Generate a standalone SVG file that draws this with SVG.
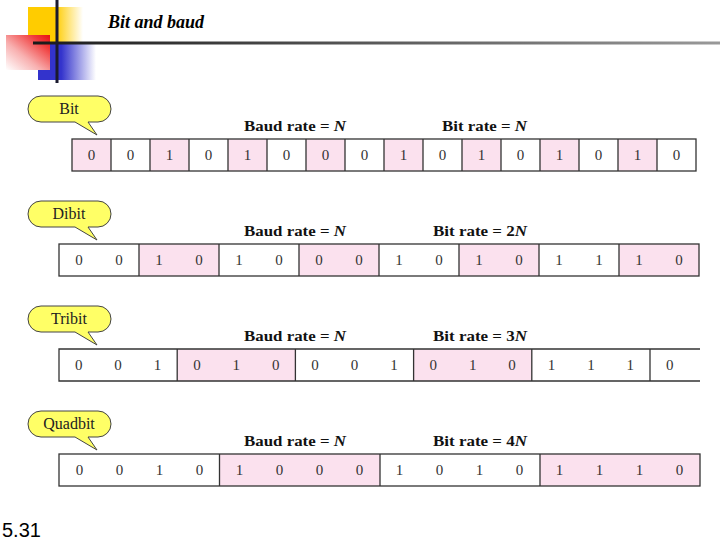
<svg xmlns="http://www.w3.org/2000/svg" width="720" height="540" viewBox="0 0 720 540">
<style>
  .bg{fill:#ffffff}
  .box{fill:none;stroke:#333333;stroke-width:1.3}
  .pink{fill:#fbe1ee;stroke:none}
  .div{fill:none;stroke:#333333;stroke-width:1.3}
  .dig{font-family:"Liberation Serif","Times New Roman",serif;font-size:15px;fill:#333333;text-anchor:middle}
  .lbl{font-family:"Liberation Serif","Times New Roman",serif;font-size:14px;font-weight:bold;fill:#111111}
  .bub{fill:#ffff66;stroke:#444444;stroke-width:1}
  .btx{font-family:"Liberation Serif","Times New Roman",serif;font-size:16px;fill:#222222;text-anchor:middle}
</style>
<defs>
  <linearGradient id="gy" x1="0" y1="0" x2="1" y2="0">
    <stop offset="0" stop-color="#ffcc00"/>
    <stop offset="0.5" stop-color="#ffcc00"/>
    <stop offset="1" stop-color="#ffffff"/>
  </linearGradient>
  <linearGradient id="gr" x1="1" y1="0" x2="0" y2="1">
    <stop offset="0" stop-color="#e81010"/>
    <stop offset="0.2" stop-color="#f03a3a"/>
    <stop offset="0.6" stop-color="#f8b0b0"/>
    <stop offset="1" stop-color="#ffffff"/>
  </linearGradient>
  <linearGradient id="gb" x1="0" y1="0" x2="1" y2="0">
    <stop offset="0" stop-color="#3333cc"/>
    <stop offset="0.4" stop-color="#3333cc"/>
    <stop offset="1" stop-color="#ffffff"/>
  </linearGradient>
  <linearGradient id="gl" x1="0" y1="0" x2="1" y2="0">
    <stop offset="0" stop-color="#1a1a1a"/>
    <stop offset="1" stop-color="#999999"/>
  </linearGradient>
  <path id="bubble" class="bub" d="M41 0 H98 A13 13 0 0 1 111 13 A13 13 0 0 1 98 26 H88 L97 39 L75 26 H41 A13 13 0 0 1 28 13 A13 13 0 0 1 41 0 Z"/>
</defs>
<rect class="bg" x="0" y="0" width="720" height="540"/>

<g id="header">
  <rect x="28" y="7" width="55" height="36" fill="url(#gy)"/>
  <rect x="38" y="43" width="58" height="37" fill="url(#gb)"/>
  <rect x="6" y="35" width="44" height="35" fill="url(#gr)"/>
  <rect x="33" y="41.5" width="687" height="3" fill="url(#gl)"/>
  <rect x="55.5" y="0" width="3" height="83" fill="#1a1a2e"/>
  <text x="108" y="28" font-family="Liberation Serif,'Times New Roman',serif" font-size="18" font-weight="bold" font-style="italic" fill="#000">Bit and baud</text>
</g>

<g id="bit">
  <use href="#bubble" transform="translate(0,96)"/>
  <text class="btx" x="69" y="114">Bit</text>
  <text class="lbl" x="244" y="131" textLength="102" lengthAdjust="spacingAndGlyphs">Baud rate = <tspan font-style="italic">N</tspan></text>
  <text class="lbl" x="442" y="131" textLength="85" lengthAdjust="spacingAndGlyphs">Bit rate = <tspan font-style="italic">N</tspan></text>
  <rect class="pink" x="72" y="139" width="39" height="32"/>
  <rect class="pink" x="150" y="139" width="39" height="32"/>
  <rect class="pink" x="228" y="139" width="39" height="32"/>
  <rect class="pink" x="306" y="139" width="39" height="32"/>
  <rect class="pink" x="384" y="139" width="39" height="32"/>
  <rect class="pink" x="462" y="139" width="39" height="32"/>
  <rect class="pink" x="540" y="139" width="39" height="32"/>
  <rect class="pink" x="618" y="139" width="39" height="32"/>
  <rect class="box" x="72" y="139" width="624" height="32"/>
  <path class="div" d="M111 139V171M150 139V171M189 139V171M228 139V171M267 139V171M306 139V171M345 139V171M384 139V171M423 139V171M462 139V171M501 139V171M540 139V171M579 139V171M618 139V171M657 139V171"/>
  <text class="dig" x="91.5" y="160">0</text>
  <text class="dig" x="130.5" y="160">0</text>
  <text class="dig" x="169.5" y="160">1</text>
  <text class="dig" x="208.5" y="160">0</text>
  <text class="dig" x="247.5" y="160">1</text>
  <text class="dig" x="286.5" y="160">0</text>
  <text class="dig" x="325.5" y="160">0</text>
  <text class="dig" x="364.5" y="160">0</text>
  <text class="dig" x="403.5" y="160">1</text>
  <text class="dig" x="442.5" y="160">0</text>
  <text class="dig" x="481.5" y="160">1</text>
  <text class="dig" x="520.5" y="160">0</text>
  <text class="dig" x="559.5" y="160">1</text>
  <text class="dig" x="598.5" y="160">0</text>
  <text class="dig" x="637.5" y="160">1</text>
  <text class="dig" x="676.5" y="160">0</text>
</g>

<g id="dibit">
  <use href="#bubble" transform="translate(0,201)"/>
  <text class="btx" x="69" y="219">Dibit</text>
  <text class="lbl" x="244" y="236" textLength="102" lengthAdjust="spacingAndGlyphs">Baud rate = <tspan font-style="italic">N</tspan></text>
  <text class="lbl" x="433" y="236" textLength="94" lengthAdjust="spacingAndGlyphs">Bit rate = 2<tspan font-style="italic">N</tspan></text>
  <rect class="pink" x="139" y="244" width="80" height="32"/>
  <rect class="pink" x="299" y="244" width="80" height="32"/>
  <rect class="pink" x="459" y="244" width="80" height="32"/>
  <rect class="pink" x="619" y="244" width="80" height="32"/>
  <rect class="box" x="59" y="244" width="640" height="32"/>
  <path class="div" d="M139 244V276M219 244V276M299 244V276M379 244V276M459 244V276M539 244V276M619 244V276"/>
  <text class="dig" x="79" y="265">0</text>
  <text class="dig" x="119" y="265">0</text>
  <text class="dig" x="159" y="265">1</text>
  <text class="dig" x="199" y="265">0</text>
  <text class="dig" x="239" y="265">1</text>
  <text class="dig" x="279" y="265">0</text>
  <text class="dig" x="319" y="265">0</text>
  <text class="dig" x="359" y="265">0</text>
  <text class="dig" x="399" y="265">1</text>
  <text class="dig" x="439" y="265">0</text>
  <text class="dig" x="479" y="265">1</text>
  <text class="dig" x="519" y="265">0</text>
  <text class="dig" x="559" y="265">1</text>
  <text class="dig" x="599" y="265">1</text>
  <text class="dig" x="639" y="265">1</text>
  <text class="dig" x="679" y="265">0</text>
</g>

<g id="tribit">
  <use href="#bubble" transform="translate(0,306)"/>
  <text class="btx" x="69" y="324">Tribit</text>
  <text class="lbl" x="244" y="341" textLength="102" lengthAdjust="spacingAndGlyphs">Baud rate = <tspan font-style="italic">N</tspan></text>
  <text class="lbl" x="433" y="341" textLength="94" lengthAdjust="spacingAndGlyphs">Bit rate = 3<tspan font-style="italic">N</tspan></text>
  <rect class="pink" x="177.2" y="349" width="118.2" height="32"/>
  <rect class="pink" x="413.6" y="349" width="118.2" height="32"/>
  <path class="div" d="M700 349H59V381H700"/>
  <path class="div" d="M177.2 349V381M295.4 349V381M413.6 349V381M531.8 349V381M650 349V381"/>
  <text class="dig" x="78.7" y="370">0</text>
  <text class="dig" x="118.1" y="370">0</text>
  <text class="dig" x="157.5" y="370">1</text>
  <text class="dig" x="196.9" y="370">0</text>
  <text class="dig" x="236.3" y="370">1</text>
  <text class="dig" x="275.7" y="370">0</text>
  <text class="dig" x="315.1" y="370">0</text>
  <text class="dig" x="354.5" y="370">0</text>
  <text class="dig" x="393.9" y="370">1</text>
  <text class="dig" x="433.3" y="370">0</text>
  <text class="dig" x="472.7" y="370">1</text>
  <text class="dig" x="512.1" y="370">0</text>
  <text class="dig" x="551.5" y="370">1</text>
  <text class="dig" x="590.9" y="370">1</text>
  <text class="dig" x="630.3" y="370">1</text>
  <text class="dig" x="669.7" y="370">0</text>
</g>

<g id="quadbit">
  <use href="#bubble" transform="translate(0,411)"/>
  <text class="btx" x="69" y="429">Quadbit</text>
  <text class="lbl" x="244" y="446" textLength="102" lengthAdjust="spacingAndGlyphs">Baud rate = <tspan font-style="italic">N</tspan></text>
  <text class="lbl" x="433" y="446" textLength="94" lengthAdjust="spacingAndGlyphs">Bit rate = 4<tspan font-style="italic">N</tspan></text>
  <rect class="pink" x="219.5" y="454" width="160.5" height="32"/>
  <rect class="pink" x="540" y="454" width="160" height="32"/>
  <rect class="box" x="59" y="454" width="641" height="32"/>
  <path class="div" d="M219.5 454V486M380 454V486M540 454V486"/>
  <text class="dig" x="79.5" y="475">0</text>
  <text class="dig" x="119.5" y="475">0</text>
  <text class="dig" x="159.5" y="475">1</text>
  <text class="dig" x="199.5" y="475">0</text>
  <text class="dig" x="239.5" y="475">1</text>
  <text class="dig" x="279.5" y="475">0</text>
  <text class="dig" x="319.5" y="475">0</text>
  <text class="dig" x="359.5" y="475">0</text>
  <text class="dig" x="399.5" y="475">1</text>
  <text class="dig" x="439.5" y="475">0</text>
  <text class="dig" x="479.5" y="475">1</text>
  <text class="dig" x="519.5" y="475">0</text>
  <text class="dig" x="559.5" y="475">1</text>
  <text class="dig" x="599.5" y="475">1</text>
  <text class="dig" x="639.5" y="475">1</text>
  <text class="dig" x="679.5" y="475">0</text>
</g>

<g id="connectors"/>

<g id="footer">
  <text x="2" y="537" font-family="Liberation Sans,Arial,sans-serif" font-size="20" fill="#000">5.31</text>
</g>
</svg>
